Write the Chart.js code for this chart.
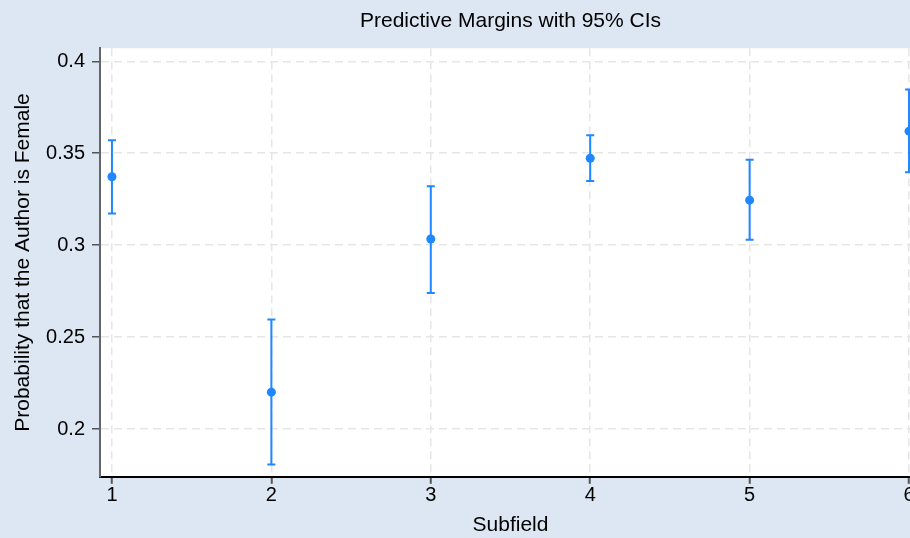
<!DOCTYPE html>
<html>
<head>
<meta charset="utf-8">
<script src="https://cdn.jsdelivr.net/npm/chart.js@4"></script>
<style>
    html, body { margin: 0; padding: 0; overflow: hidden; background: #dce7f3; }
    #wrap { width: 930px; height: 538px; }
</style>
</head>
<body>
<div id="wrap"><canvas id="margins-chart"></canvas></div>
<script>
// Chart data
const subfields = [1, 2, 3, 4, 5, 6];
const margins = [0.3372, 0.2201, 0.3034, 0.3473, 0.3245, 0.3620];
const ciLower = [0.3173, 0.1808, 0.2740, 0.3349, 0.3030, 0.3396];
const ciUpper = [0.3571, 0.2596, 0.3321, 0.3598, 0.3464, 0.3846];
const yTicks = [0.2, 0.25, 0.3, 0.35, 0.4];
const xTicks = [1, 2, 3, 4, 5, 6];

const BLUE = '#1f87ff';
const FONT = 'Liberation Sans, Arial, Helvetica, sans-serif';

// Paint the light blue background and white plot region
const backgroundPlugin = {
    id: 'background',
    beforeDraw(chart) {
        const { ctx, chartArea } = chart;
        ctx.save();
        ctx.fillStyle = '#dce7f3';
        ctx.fillRect(0, 0, chart.width, chart.height);
        ctx.fillStyle = '#ffffff';
        ctx.fillRect(chartArea.left, chartArea.top, chartArea.right - chartArea.left, chartArea.bottom - chartArea.top);
        ctx.restore();
    }
};

// Draw the confidence interval bars with caps
const errorBarPlugin = {
    id: 'errorBars',
    beforeDatasetsDraw(chart) {
        const { ctx, scales } = chart;
        ctx.save();
        ctx.strokeStyle = BLUE;
        ctx.lineWidth = 2;
        subfields.forEach((s, i) => {
            const x = scales.x.getPixelForValue(s);
            const yLo = scales.y.getPixelForValue(ciLower[i]);
            const yHi = scales.y.getPixelForValue(ciUpper[i]);
            ctx.beginPath();
            ctx.moveTo(x, yLo);
            ctx.lineTo(x, yHi);
            ctx.moveTo(x - 4, yLo);
            ctx.lineTo(x + 4, yLo);
            ctx.moveTo(x - 4, yHi);
            ctx.lineTo(x + 4, yHi);
            ctx.stroke();
        });
        ctx.restore();
    }
};

const ctx = document.getElementById('margins-chart').getContext('2d');
new Chart(ctx, {
    type: 'scatter',
    data: {
        datasets: [{
            data: subfields.map((s, i) => ({ x: s, y: margins[i] })),
            backgroundColor: BLUE,
            borderColor: BLUE,
            pointRadius: 4.5,
            pointBorderWidth: 0
        }]
    },
    options: {
        responsive: true,
        maintainAspectRatio: false,
        animation: false,
        layout: { padding: { left: 0, right: 9, top: 0, bottom: 0 } },
        plugins: {
            legend: { display: false },
            tooltip: { enabled: false },
            title: {
                display: true,
                text: 'Predictive Margins with 95% CIs',
                fullSize: false,
                color: '#000',
                font: { family: FONT, size: 21, weight: 'normal' },
                padding: { top: 9, bottom: 14 }
            }
        },
        scales: {
            x: {
                type: 'linear',
                min: 0.925,
                max: 6.075,
                afterBuildTicks: s => { s.ticks = xTicks.map(v => ({ value: v })); },
                ticks: {
                    color: '#000',
                    font: { family: FONT, size: 20 },
                    padding: 0,
                    callback: v => String(v)
                },
                grid: {
                    color: '#e6e6e6',
                    lineWidth: 1.5,
                    tickColor: '#555',
                    tickLength: 7,
                    tickWidth: 2
                },
                border: { color: '#000', width: 2, dash: [8, 5] },
                title: {
                    display: true,
                    text: 'Subfield',
                    color: '#000',
                    font: { family: FONT, size: 21 },
                    padding: { top: 5, bottom: 0 }
                }
            },
            y: {
                min: 0.1741,
                max: 0.4071,
                afterBuildTicks: s => { s.ticks = yTicks.map(v => ({ value: v })); },
                afterFit: s => { s.width = 100; },
                ticks: {
                    color: '#000',
                    font: { family: FONT, size: 20 },
                    padding: 7,
                    callback: v => String(v)
                },
                grid: {
                    color: '#e6e6e6',
                    lineWidth: 1.5,
                    tickColor: '#555',
                    tickLength: 8,
                    tickWidth: 1.5
                },
                border: { color: '#666', width: 2, dash: [8, 5] },
                title: {
                    display: true,
                    text: 'Probability that the Author is Female',
                    color: '#000',
                    font: { family: FONT, size: 21 },
                    padding: { top: 11, bottom: 0 }
                }
            }
        }
    },
    plugins: [backgroundPlugin, errorBarPlugin]
});
</script>
</body>
</html>
